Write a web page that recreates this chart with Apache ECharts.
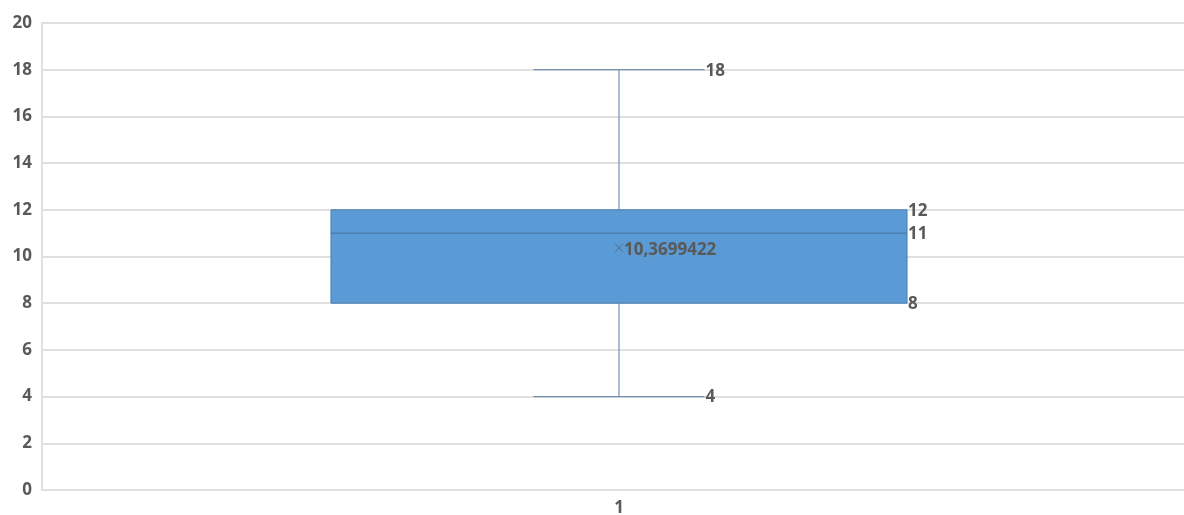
<!DOCTYPE html>
<html>
<head>
<meta charset="utf-8">
<style>html,body{margin:0;padding:0;background:#fff;overflow:hidden;}#c{width:1184px;height:515px;}</style>
<script src="https://cdn.jsdelivr.net/npm/echarts@6/dist/echarts.min.js"></script>
</head>
<body>
<div id="c"></div>
<script>
const categories = ['1'];
const minValues = [4];
const q1Values = [8];
const medianValues = [11];
const q3Values = [12];
const maxValues = [18];
const meanValues = [10.3699422];
const meanLabels = ['10,3699422'];
const yTicks = [0, 2, 4, 6, 8, 10, 12, 14, 16, 18, 20];

const chart = echarts.init(document.getElementById('c'));
const font = '"Open Sans", "Noto Sans", sans-serif';
const labelColor = '#595959';

const data = categories.map((c, i) => [i, minValues[i], q1Values[i], medianValues[i], q3Values[i], maxValues[i], meanValues[i]]);

function renderItem(params, api) {
  const idx = api.value(0);
  const vals = [1,2,3,4,5,6].map(k => api.value(k));
  const band = api.size([1, 0])[0];
  const boxHalf = band * 0.2496;
  const capHalf = band * 0.0741;
  const pMin = api.coord([idx, vals[0]]);
  const pQ1 = api.coord([idx, vals[1]]);
  const pMed = api.coord([idx, vals[2]]);
  const pQ3 = api.coord([idx, vals[3]]);
  const pMax = api.coord([idx, vals[4]]);
  const pMean = api.coord([idx, vals[5]]);
  const cx = pMed[0];
  const whiskerStyle = {stroke: '#7792B0', lineWidth: 1.2};
  const txt = (x, y, s) => ({type: 'text', x: x, y: y, style: {text: s, fill: labelColor, font: 'bold 17px ' + font, textAlign: 'left', textVerticalAlign: 'middle'}});
  return {
    type: 'group',
    children: [
      {type: 'line', shape: {x1: cx, y1: pMax[1], x2: cx, y2: pQ3[1]}, style: whiskerStyle},
      {type: 'line', shape: {x1: cx, y1: pQ1[1], x2: cx, y2: pMin[1]}, style: whiskerStyle},
      {type: 'line', shape: {x1: cx - capHalf, y1: pMax[1], x2: cx + capHalf, y2: pMax[1]}, style: whiskerStyle},
      {type: 'line', shape: {x1: cx - capHalf, y1: pMin[1], x2: cx + capHalf, y2: pMin[1]}, style: whiskerStyle},
      {type: 'rect', shape: {x: cx - boxHalf, y: pQ3[1], width: boxHalf * 2, height: pQ1[1] - pQ3[1]}, style: {fill: '#5B9BD5', stroke: '#4A7EB0', lineWidth: 1}},
      {type: 'line', shape: {x1: cx - boxHalf, y1: pMed[1], x2: cx + boxHalf, y2: pMed[1]}, style: {stroke: '#41719C', lineWidth: 1}},
      {type: 'line', shape: {x1: pMean[0] - 4, y1: pMean[1] - 4, x2: pMean[0] + 4, y2: pMean[1] + 4}, style: {stroke: '#4F7096', lineWidth: 1}},
      {type: 'line', shape: {x1: pMean[0] - 4, y1: pMean[1] + 4, x2: pMean[0] + 4, y2: pMean[1] - 4}, style: {stroke: '#4F7096', lineWidth: 1}},
      txt(cx + capHalf + 1, pMax[1] + 1, String(vals[4])),
      txt(cx + capHalf + 1, pMin[1] + 1, String(vals[0])),
      txt(cx + boxHalf + 1, pQ3[1] + 1, String(vals[3])),
      txt(cx + boxHalf + 1, pMed[1] + 1, String(vals[2])),
      txt(cx + boxHalf + 1, pQ1[1] + 1, String(vals[1])),
      txt(pMean[0] + 5, pMean[1] + 2, meanLabels[params.dataIndex])
    ]
  };
}

chart.setOption({
  animation: false,
  grid: {left: 42, width: 1154, top: 23, bottom: 25, containLabel: false, outerBoundsMode: 'none'},
  xAxis: {
    type: 'category',
    data: categories,
    boundaryGap: true,
    axisLine: {show: true, lineStyle: {color: '#E0E0E0', width: 2}},
    axisTick: {show: false},
    axisLabel: {color: labelColor, fontFamily: font, fontWeight: 'bold', fontSize: 17, margin: 10}
  },
  yAxis: {
    type: 'value',
    min: yTicks[0],
    max: yTicks[yTicks.length - 1],
    interval: 2,
    axisLine: {show: true, lineStyle: {color: '#E0E0E0', width: 2}},
    axisTick: {show: false},
    splitLine: {show: true, lineStyle: {color: '#E0E0E0', width: 2}},
    axisLabel: {color: labelColor, fontFamily: font, fontWeight: 'bold', fontSize: 17, margin: 10}
  },
  series: [{
    type: 'custom',
    renderItem: renderItem,
    encode: {x: 0, y: [1, 2, 3, 4, 5]},
    data: data
  }]
});
</script>
</body>
</html>
